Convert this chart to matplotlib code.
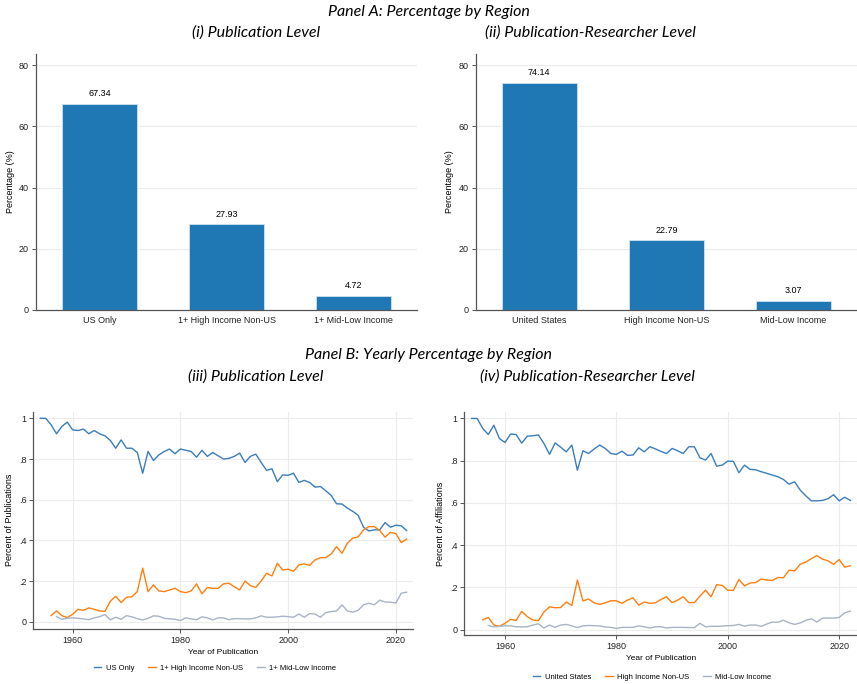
import numpy as np
import matplotlib.pyplot as plt

plt.rcParams["font.family"] = ["Liberation Sans", "DejaVu Sans"]

# ----------------------------------------------------------------------
# Datos Panel A
# ----------------------------------------------------------------------
cats_pub = ["US Only", "1+ High Income Non-US", "1+ Mid-Low Income"]
pct_pub = [67.34, 27.93, 4.72]

cats_res = ["United States", "High Income Non-US", "Mid-Low Income"]
pct_res = [74.14, 22.79, 3.07]

# ----------------------------------------------------------------------
# Datos Panel B (proporciones anuales)
# ----------------------------------------------------------------------
years_us = np.arange(1954, 2023)
years_hi = np.arange(1956, 2023)
years_ml = np.arange(1957, 2023)

pub_us = [1.0, 1.0, 0.968, 0.924, 0.96, 0.981, 0.943, 0.94, 0.947, 0.924,
          0.94, 0.924, 0.914, 0.891, 0.853, 0.894, 0.853, 0.853, 0.832, 0.73,
          0.837, 0.793, 0.82, 0.837, 0.849, 0.826, 0.849, 0.843, 0.837, 0.809,
          0.843, 0.813, 0.832, 0.816, 0.8, 0.803, 0.813, 0.829, 0.783, 0.813,
          0.824, 0.783, 0.744, 0.752, 0.689, 0.722, 0.72, 0.73, 0.685, 0.695,
          0.685, 0.662, 0.665, 0.644, 0.621, 0.58, 0.579, 0.559, 0.543, 0.524,
          0.465, 0.447, 0.452, 0.452, 0.488, 0.465, 0.475, 0.472, 0.449]
pub_hi = [0.031, 0.054, 0.031, 0.021, 0.038, 0.062, 0.057, 0.069, 0.062, 0.054,
          0.052, 0.102, 0.126, 0.095, 0.121, 0.124, 0.149, 0.264, 0.149, 0.182,
          0.152, 0.149, 0.157, 0.165, 0.149, 0.144, 0.152, 0.187, 0.138, 0.169,
          0.165, 0.165, 0.187, 0.19, 0.173, 0.157, 0.201, 0.178, 0.169, 0.201,
          0.239, 0.226, 0.288, 0.255, 0.259, 0.249, 0.28, 0.285, 0.278, 0.305,
          0.315, 0.316, 0.334, 0.37, 0.337, 0.387, 0.411, 0.418, 0.452, 0.468,
          0.468, 0.449, 0.416, 0.44, 0.434, 0.39, 0.406]
pub_ml = [0.026, 0.013, 0.018, 0.02, 0.018, 0.015, 0.011, 0.02, 0.026, 0.036,
          0.01, 0.023, 0.013, 0.031, 0.025, 0.016, 0.01, 0.018, 0.03, 0.028,
          0.018, 0.015, 0.013, 0.007, 0.02, 0.015, 0.011, 0.025, 0.02, 0.01,
          0.02, 0.02, 0.011, 0.016, 0.016, 0.015, 0.015, 0.02, 0.03, 0.023,
          0.023, 0.025, 0.028, 0.026, 0.023, 0.039, 0.023, 0.041, 0.039, 0.023,
          0.046, 0.051, 0.054, 0.084, 0.054, 0.048, 0.057, 0.084, 0.092, 0.084,
          0.107, 0.098, 0.097, 0.093, 0.141, 0.146]

res_us = [1.0, 1.0, 0.953, 0.924, 0.968, 0.905, 0.886, 0.926, 0.924, 0.883,
          0.916, 0.918, 0.922, 0.881, 0.83, 0.884, 0.864, 0.842, 0.874, 0.755,
          0.847, 0.834, 0.855, 0.874, 0.858, 0.834, 0.83, 0.845, 0.825, 0.827,
          0.861, 0.842, 0.866, 0.856, 0.844, 0.834, 0.858, 0.847, 0.834, 0.866,
          0.866, 0.814, 0.803, 0.834, 0.774, 0.779, 0.798, 0.797, 0.743, 0.779,
          0.759, 0.757, 0.748, 0.74, 0.732, 0.724, 0.711, 0.689, 0.7, 0.661,
          0.634, 0.61, 0.61, 0.612, 0.62, 0.639, 0.61, 0.627, 0.612]
res_hi = [0.047, 0.058, 0.022, 0.016, 0.03, 0.049, 0.044, 0.087, 0.062, 0.046,
          0.043, 0.084, 0.108, 0.104, 0.105, 0.131, 0.115, 0.235, 0.136, 0.145,
          0.127, 0.12, 0.127, 0.137, 0.137, 0.125, 0.14, 0.151, 0.116, 0.131,
          0.125, 0.127, 0.143, 0.156, 0.128, 0.14, 0.156, 0.128, 0.128, 0.159,
          0.187, 0.156, 0.213, 0.21, 0.187, 0.186, 0.238, 0.207, 0.221, 0.223,
          0.24, 0.235, 0.233, 0.247, 0.246, 0.282, 0.278, 0.31, 0.32, 0.336,
          0.351, 0.334, 0.326, 0.309, 0.332, 0.296, 0.303]
res_ml = [0.02, 0.013, 0.016, 0.018, 0.018, 0.014, 0.013, 0.014, 0.022, 0.028,
          0.008, 0.022, 0.011, 0.022, 0.025, 0.018, 0.01, 0.018, 0.02, 0.019,
          0.018, 0.013, 0.011, 0.006, 0.011, 0.011, 0.011, 0.018, 0.014, 0.008,
          0.014, 0.014, 0.008, 0.011, 0.011, 0.011, 0.01, 0.01, 0.03, 0.014,
          0.016, 0.016, 0.017, 0.019, 0.02, 0.025, 0.017, 0.022, 0.022, 0.016,
          0.027, 0.036, 0.035, 0.045, 0.033, 0.025, 0.032, 0.044, 0.052, 0.036,
          0.055, 0.055, 0.055, 0.058, 0.08, 0.088]

BLUE = "#1f77b4"
LBLUE = "#3a7dbd"
ORANGE = "#ff7f0e"
GRAY = "#a9b3c6"
GRID = "#ececec"
AX = "#555555"

title_font = dict(family="Lato", style="italic", fontsize=11.5)

fig = plt.figure(figsize=(8.57, 6.84), dpi=100)


def style_axes(ax):
    for s in ["top", "right"]:
        ax.spines[s].set_visible(False)
    for s in ["left", "bottom"]:
        ax.spines[s].set_color(AX)
        ax.spines[s].set_linewidth(0.9)
    ax.tick_params(labelsize=6.5, colors="#222222", length=3, width=0.7,
                   color=AX, pad=2)
    ax.set_axisbelow(True)


def bar_panel(rect, cats, vals):
    ax = fig.add_axes(rect)
    x = np.arange(len(cats))
    bars = ax.bar(x, vals, width=0.59, color=BLUE, edgecolor="#cfe2f0",
                  linewidth=0.6)
    for b, v in zip(bars, vals):
        ax.text(b.get_x() + b.get_width() / 2, v + 1.8, f"{v:.2f}",
                ha="center", va="bottom", fontsize=6.5)
    ax.set_xlim(-0.5, 2.5)
    ax.set_ylim(0, 83.6)
    ax.set_yticks([0, 20, 40, 60, 80])
    ax.set_xticks(x)
    ax.set_xticklabels(cats)
    for yv in [20, 40, 60, 80]:
        ax.axhline(yv, color=GRID, lw=0.8, zorder=0)
    ax.set_ylabel("Percentage (%)", fontsize=6.5)
    ax.yaxis.set_label_coords(-0.056, 0.5)
    style_axes(ax)
    ax.tick_params(axis="x", length=0, pad=4)
    return ax


def line_panel(rect, ylabel, names, series, ylim, leg_y):
    ax = fig.add_axes(rect)
    for (yrs, vals, col), name in zip(series, names):
        ax.plot(yrs, vals, color=col, lw=1.0, label=name)
    ax.set_xlim(1952.7, 2023.2)
    ax.set_ylim(*ylim)
    ax.set_xticks([1960, 1980, 2000, 2020])
    ax.set_yticks([0, 0.2, 0.4, 0.6, 0.8, 1.0])
    ax.set_yticklabels(["0", ".2", ".4", ".6", ".8", "1"])
    ax.grid(True, color=GRID, lw=0.8)
    ax.set_xlabel("Year of Publication", fontsize=6, labelpad=3)
    ax.set_ylabel(ylabel, fontsize=6.5)
    ax.yaxis.set_label_coords(-0.05, 0.5)
    style_axes(ax)
    ax.legend(loc="center", bbox_to_anchor=(0.478, leg_y), ncol=3,
              frameon=False, fontsize=5.5, handlelength=1.0,
              handletextpad=0.6, columnspacing=1.8)
    return ax


# Panel A
fig.text(0.5, 0.982, "Panel A: Percentage by Region", ha="center", va="center",
         **title_font)
fig.text(0.299, 0.953, "(i) Publication Level", ha="center", va="center",
         **title_font)
fig.text(0.689, 0.953, "(ii) Publication-Researcher Level", ha="center",
         va="center", **title_font)

bar_panel([0.042, 0.5468, 0.4446, 0.3742], cats_pub, pct_pub)
bar_panel([0.555, 0.5468, 0.445, 0.3742], cats_res, pct_res)

# Panel B
fig.text(0.5, 0.481, "Panel B: Yearly Percentage by Region", ha="center",
         va="center", **title_font)
fig.text(0.298, 0.450, "(iii) Publication Level", ha="center", va="center",
         **title_font)
fig.text(0.685, 0.450, "(iv) Publication-Researcher Level", ha="center",
         va="center", **title_font)

names_pub = ["US Only", "1+ High Income Non-US", "1+ Mid-Low Income"]
line_panel([0.0389, 0.0809, 0.4431, 0.3171], "Percent of Publications",
           names_pub,
           [(years_us, pub_us, LBLUE), (years_hi, pub_hi, ORANGE),
            (years_ml, pub_ml, GRAY)],
           (-0.033, 1.032), -0.181)

names_res = ["United States", "High Income Non-US", "Mid-Low Income"]
line_panel([0.5418, 0.0712, 0.4582, 0.326], "Percent of Affiliations",
           names_res,
           [(years_us, res_us, LBLUE), (years_hi, res_hi, ORANGE),
            (years_ml, res_ml, GRAY)],
           (-0.0265, 1.029), -0.187)

plt.savefig("out.png", dpi=100)
plt.close()
